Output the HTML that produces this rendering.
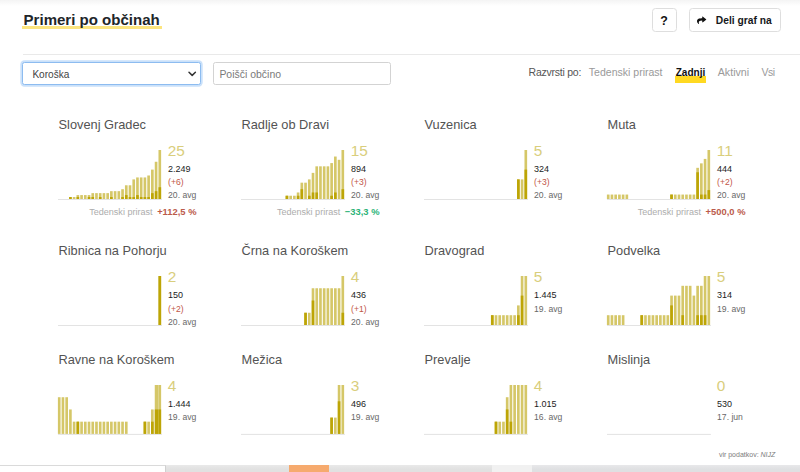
<!DOCTYPE html>
<html lang="sl">
<head>
<meta charset="utf-8">
<title>Primeri po občinah</title>
<style>
html,body{margin:0;padding:0;}
body{width:800px;height:472px;overflow:hidden;background:#fff;position:relative;font-family:"Liberation Sans", sans-serif;}
.t{position:absolute;white-space:nowrap;margin:0;padding:0;}
.c{position:absolute;overflow:visible;}
.abs{position:absolute;box-sizing:border-box;}
#topshade{left:0;top:0;width:800px;height:6px;background:linear-gradient(#f4f4f4,#ffffff);}
#hl{left:22px;top:25.5px;width:139.5px;height:3.1px;background:#fce57f;}
#hr{left:22.5px;top:53.5px;width:778px;height:1px;background:#e9e9e9;}
.btn{border:1px solid #dedede;border-radius:3.5px;background:#fff;top:8.3px;height:23.6px;}
#sel{left:22.2px;top:62.2px;width:178.6px;height:22.4px;border:1px solid #8dbcf0;border-radius:2.5px;background:#fff;box-shadow:0 0 0 1.7px rgba(150,195,245,.5);}
#inp{left:212.6px;top:62.2px;width:178.6px;height:22.4px;border:1px solid #d3d3d3;border-radius:2.5px;background:#fff;}
#zl{left:675px;top:76.4px;width:30.6px;height:6.5px;background:#ffd922;}
.strip{top:465px;height:7px;}
</style>
</head>
<body>
<div class="abs" id="topshade"></div>
<div class="abs" id="hl"></div>
<div class="t" style="top:10.39px;font-size:15.04px;line-height:20px;color:#212529;font-weight:bold;left:23.60px;">Primeri po občinah</div>
<div class="abs btn" style="left:652px;width:24.6px;"></div>
<div class="t" style="top:11.40px;font-size:12.4px;line-height:20px;color:#111;font-weight:bold;left:660.20px;">?</div>
<div class="abs btn" style="left:689.4px;width:91.4px;"></div>
<svg class="c" style="left:696.7px;top:15.6px" width="9.3" height="8.5" viewBox="0 0 512 512" preserveAspectRatio="none"><path d="M503.691 189.836L327.687 37.851C312.281 24.546 288 35.347 288 56.015v80.053C127.371 137.907 0 170.1 0 322.326c0 61.441 39.581 122.309 83.333 154.132 13.653 9.931 33.111-2.533 28.077-18.631C66.066 312.814 132.917 274.316 288 272.085V360c0 20.7 24.3 31.453 39.687 18.164l176.004-152c11.071-9.562 11.086-26.753 0-36.328z" fill="#111"/></svg>
<div class="t" style="top:11.35px;font-size:10.25px;line-height:20px;color:#16181b;font-weight:bold;left:715.80px;">Deli graf na</div>
<div class="abs" id="hr"></div>
<div class="abs" id="sel"></div>
<div class="t" style="top:64.50px;font-size:10.1px;line-height:20px;color:#444;left:32.40px;">Koroška</div>
<svg class="c" style="left:188.4px;top:70.8px" width="8.4" height="6" viewBox="0 0 8.4 6"><path d="M1 1.2 L4.2 4.4 L7.4 1.2" fill="none" stroke="#333" stroke-width="1.5" stroke-linecap="round" stroke-linejoin="round"/></svg>
<div class="abs" id="inp"></div>
<div class="t" style="top:64.87px;font-size:10.48px;line-height:20px;color:#7a7a7a;left:219.40px;">Poišči občino</div>
<div class="t" style="top:61.76px;font-size:10.5px;line-height:20px;color:#555;letter-spacing:-0.24px;left:528.60px;">Razvrsti po:</div>
<div class="t" style="top:61.75px;font-size:10.54px;line-height:20px;color:#9a9a9a;left:588.80px;">Tedenski prirast</div>
<div class="abs" id="zl"></div>
<div class="t" style="top:62.80px;font-size:10.09px;line-height:20px;color:#111;font-weight:bold;left:675.70px;">Zadnji</div>
<div class="t" style="top:61.70px;font-size:10.69px;line-height:20px;color:#9a9a9a;left:717.70px;">Aktivni</div>
<div class="t" style="top:61.76px;font-size:10.5px;line-height:20px;color:#9a9a9a;letter-spacing:-0.43px;left:761.40px;">Vsi</div>
<div class="t" style="top:115.06px;font-size:12.8px;line-height:20px;color:#535353;left:58.50px;">Slovenj Gradec</div>
<svg class="c" style="left:56.2px;top:148.0px" width="110" height="54" viewBox="-2 -2 110 54"><rect x="0" y="49.0" width="103.9" height="1" fill="#e3e3e3"/><rect x="11.08" y="47.04" width="2.65" height="1.96" fill="#d5c768"/><rect x="11.08" y="47.04" width="2.65" height="1.96" fill="#bda506"/><rect x="14.80" y="47.04" width="2.65" height="1.96" fill="#d5c768"/><rect x="18.52" y="45.08" width="2.65" height="3.92" fill="#d5c768"/><rect x="18.52" y="47.04" width="2.65" height="1.96" fill="#bda506"/><rect x="22.25" y="45.08" width="2.65" height="3.92" fill="#d5c768"/><rect x="25.97" y="45.08" width="2.65" height="3.92" fill="#d5c768"/><rect x="29.70" y="45.08" width="2.65" height="3.92" fill="#d5c768"/><rect x="29.70" y="47.04" width="2.65" height="1.96" fill="#bda506"/><rect x="33.42" y="43.12" width="2.65" height="5.88" fill="#d5c768"/><rect x="33.42" y="47.04" width="2.65" height="1.96" fill="#bda506"/><rect x="37.15" y="43.12" width="2.65" height="5.88" fill="#d5c768"/><rect x="40.88" y="43.12" width="2.65" height="5.88" fill="#d5c768"/><rect x="40.88" y="47.04" width="2.65" height="1.96" fill="#bda506"/><rect x="44.60" y="43.12" width="2.65" height="5.88" fill="#d5c768"/><rect x="48.33" y="43.12" width="2.65" height="5.88" fill="#d5c768"/><rect x="52.05" y="41.16" width="2.65" height="7.84" fill="#d5c768"/><rect x="52.05" y="47.04" width="2.65" height="1.96" fill="#bda506"/><rect x="55.77" y="41.16" width="2.65" height="7.84" fill="#d5c768"/><rect x="59.50" y="41.16" width="2.65" height="7.84" fill="#d5c768"/><rect x="63.23" y="39.20" width="2.65" height="9.80" fill="#d5c768"/><rect x="63.23" y="47.04" width="2.65" height="1.96" fill="#bda506"/><rect x="66.95" y="35.28" width="2.65" height="13.72" fill="#d5c768"/><rect x="66.95" y="45.08" width="2.65" height="3.92" fill="#bda506"/><rect x="70.68" y="35.28" width="2.65" height="13.72" fill="#d5c768"/><rect x="70.68" y="47.04" width="2.65" height="1.96" fill="#bda506"/><rect x="74.40" y="29.40" width="2.65" height="19.60" fill="#d5c768"/><rect x="74.40" y="47.04" width="2.65" height="1.96" fill="#bda506"/><rect x="78.13" y="27.44" width="2.65" height="21.56" fill="#d5c768"/><rect x="78.13" y="45.08" width="2.65" height="3.92" fill="#bda506"/><rect x="81.85" y="27.44" width="2.65" height="21.56" fill="#d5c768"/><rect x="81.85" y="47.04" width="2.65" height="1.96" fill="#bda506"/><rect x="85.58" y="27.44" width="2.65" height="21.56" fill="#d5c768"/><rect x="85.58" y="47.04" width="2.65" height="1.96" fill="#bda506"/><rect x="89.30" y="25.48" width="2.65" height="23.52" fill="#d5c768"/><rect x="89.30" y="47.04" width="2.65" height="1.96" fill="#bda506"/><rect x="93.03" y="19.60" width="2.65" height="29.40" fill="#d5c768"/><rect x="93.03" y="43.12" width="2.65" height="5.88" fill="#bda506"/><rect x="96.75" y="11.76" width="2.65" height="37.24" fill="#d5c768"/><rect x="96.75" y="41.16" width="2.65" height="7.84" fill="#bda506"/><rect x="100.48" y="0.00" width="2.65" height="49.00" fill="#d5c768"/><rect x="100.48" y="37.24" width="2.65" height="11.76" fill="#bda506"/></svg>
<div class="t" style="top:141.26px;font-size:15.4px;line-height:20px;color:#d9ce7c;left:167.80px;">25</div>
<div class="t" style="top:159.28px;font-size:9px;line-height:20px;color:#1c1c1c;left:168.10px;">2.249</div>
<div class="t" style="top:172.32px;font-size:8.6px;line-height:20px;color:#bf5747;left:168.10px;">(+6)</div>
<div class="t" style="top:185.32px;font-size:8.6px;line-height:20px;color:#686868;left:168.10px;">20. avg</div>
<div class="t" style="top:202.06px;font-size:9.05px;line-height:20px;color:#adadad;right:603.50px;text-align:right;">Tedenski prirast<b style="color:#bb5b4b;font-size:9.4px;margin-left:4.6px">+112,5 %</b></div>
<div class="t" style="top:115.06px;font-size:12.8px;line-height:20px;color:#535353;left:241.50px;">Radlje ob Dravi</div>
<svg class="c" style="left:239.2px;top:148.0px" width="110" height="54" viewBox="-2 -2 110 54"><rect x="0" y="49.0" width="103.9" height="1" fill="#e3e3e3"/><rect x="44.60" y="45.73" width="2.65" height="3.27" fill="#d5c768"/><rect x="44.60" y="45.73" width="2.65" height="3.27" fill="#bda506"/><rect x="48.33" y="45.73" width="2.65" height="3.27" fill="#d5c768"/><rect x="52.05" y="45.73" width="2.65" height="3.27" fill="#d5c768"/><rect x="55.77" y="42.47" width="2.65" height="6.53" fill="#d5c768"/><rect x="55.77" y="45.73" width="2.65" height="3.27" fill="#bda506"/><rect x="59.50" y="32.67" width="2.65" height="16.33" fill="#d5c768"/><rect x="59.50" y="39.20" width="2.65" height="9.80" fill="#bda506"/><rect x="63.23" y="32.67" width="2.65" height="16.33" fill="#d5c768"/><rect x="66.95" y="29.40" width="2.65" height="19.60" fill="#d5c768"/><rect x="66.95" y="45.73" width="2.65" height="3.27" fill="#bda506"/><rect x="70.68" y="22.87" width="2.65" height="26.13" fill="#d5c768"/><rect x="70.68" y="42.47" width="2.65" height="6.53" fill="#bda506"/><rect x="74.40" y="16.33" width="2.65" height="32.67" fill="#d5c768"/><rect x="74.40" y="42.47" width="2.65" height="6.53" fill="#bda506"/><rect x="78.13" y="16.33" width="2.65" height="32.67" fill="#d5c768"/><rect x="81.85" y="16.33" width="2.65" height="32.67" fill="#d5c768"/><rect x="85.58" y="16.33" width="2.65" height="32.67" fill="#d5c768"/><rect x="89.30" y="13.07" width="2.65" height="35.93" fill="#d5c768"/><rect x="89.30" y="45.73" width="2.65" height="3.27" fill="#bda506"/><rect x="93.03" y="6.53" width="2.65" height="42.47" fill="#d5c768"/><rect x="93.03" y="42.47" width="2.65" height="6.53" fill="#bda506"/><rect x="96.75" y="9.80" width="2.65" height="39.20" fill="#d5c768"/><rect x="100.48" y="0.00" width="2.65" height="49.00" fill="#d5c768"/><rect x="100.48" y="39.20" width="2.65" height="9.80" fill="#bda506"/></svg>
<div class="t" style="top:141.26px;font-size:15.4px;line-height:20px;color:#d9ce7c;left:350.80px;">15</div>
<div class="t" style="top:159.28px;font-size:9px;line-height:20px;color:#1c1c1c;left:351.10px;">894</div>
<div class="t" style="top:172.32px;font-size:8.6px;line-height:20px;color:#bf5747;left:351.10px;">(+3)</div>
<div class="t" style="top:185.32px;font-size:8.6px;line-height:20px;color:#686868;left:351.10px;">20. avg</div>
<div class="t" style="top:202.06px;font-size:9.05px;line-height:20px;color:#adadad;right:420.50px;text-align:right;">Tedenski prirast<b style="color:#2bb378;font-size:9.4px;margin-left:4.6px">−33,3 %</b></div>
<div class="t" style="top:115.06px;font-size:12.8px;line-height:20px;color:#535353;left:424.50px;">Vuzenica</div>
<svg class="c" style="left:422.2px;top:148.0px" width="110" height="54" viewBox="-2 -2 110 54"><rect x="0" y="49.0" width="103.9" height="1" fill="#e3e3e3"/><rect x="93.03" y="29.40" width="2.65" height="19.60" fill="#d5c768"/><rect x="93.03" y="29.40" width="2.65" height="19.60" fill="#bda506"/><rect x="96.75" y="29.40" width="2.65" height="19.60" fill="#d5c768"/><rect x="100.48" y="0.00" width="2.65" height="49.00" fill="#d5c768"/><rect x="100.48" y="19.60" width="2.65" height="29.40" fill="#bda506"/></svg>
<div class="t" style="top:141.26px;font-size:15.4px;line-height:20px;color:#d9ce7c;left:533.80px;">5</div>
<div class="t" style="top:159.28px;font-size:9px;line-height:20px;color:#1c1c1c;left:534.10px;">324</div>
<div class="t" style="top:172.32px;font-size:8.6px;line-height:20px;color:#bf5747;left:534.10px;">(+3)</div>
<div class="t" style="top:185.32px;font-size:8.6px;line-height:20px;color:#686868;left:534.10px;">20. avg</div>
<div class="t" style="top:115.06px;font-size:12.8px;line-height:20px;color:#535353;left:607.50px;">Muta</div>
<svg class="c" style="left:605.2px;top:148.0px" width="110" height="54" viewBox="-2 -2 110 54"><rect x="0" y="49.0" width="103.9" height="1" fill="#e3e3e3"/><rect x="-0.10" y="44.55" width="2.65" height="4.45" fill="#d5c768"/><rect x="3.62" y="44.55" width="2.65" height="4.45" fill="#d5c768"/><rect x="7.35" y="44.55" width="2.65" height="4.45" fill="#d5c768"/><rect x="11.08" y="44.55" width="2.65" height="4.45" fill="#d5c768"/><rect x="14.80" y="44.55" width="2.65" height="4.45" fill="#d5c768"/><rect x="18.52" y="44.55" width="2.65" height="4.45" fill="#d5c768"/><rect x="63.23" y="44.55" width="2.65" height="4.45" fill="#d5c768"/><rect x="63.23" y="44.55" width="2.65" height="4.45" fill="#bda506"/><rect x="66.95" y="44.55" width="2.65" height="4.45" fill="#d5c768"/><rect x="70.68" y="44.55" width="2.65" height="4.45" fill="#d5c768"/><rect x="74.40" y="44.55" width="2.65" height="4.45" fill="#d5c768"/><rect x="78.13" y="44.55" width="2.65" height="4.45" fill="#d5c768"/><rect x="81.85" y="44.55" width="2.65" height="4.45" fill="#d5c768"/><rect x="85.58" y="44.55" width="2.65" height="4.45" fill="#d5c768"/><rect x="89.30" y="17.82" width="2.65" height="31.18" fill="#d5c768"/><rect x="89.30" y="22.27" width="2.65" height="26.73" fill="#bda506"/><rect x="93.03" y="13.36" width="2.65" height="35.64" fill="#d5c768"/><rect x="93.03" y="44.55" width="2.65" height="4.45" fill="#bda506"/><rect x="96.75" y="8.91" width="2.65" height="40.09" fill="#d5c768"/><rect x="96.75" y="44.55" width="2.65" height="4.45" fill="#bda506"/><rect x="100.48" y="0.00" width="2.65" height="49.00" fill="#d5c768"/><rect x="100.48" y="40.09" width="2.65" height="8.91" fill="#bda506"/></svg>
<div class="t" style="top:141.26px;font-size:15.4px;line-height:20px;color:#d9ce7c;left:716.80px;">11</div>
<div class="t" style="top:159.28px;font-size:9px;line-height:20px;color:#1c1c1c;left:717.10px;">444</div>
<div class="t" style="top:172.32px;font-size:8.6px;line-height:20px;color:#bf5747;left:717.10px;">(+2)</div>
<div class="t" style="top:185.32px;font-size:8.6px;line-height:20px;color:#686868;left:717.10px;">20. avg</div>
<div class="t" style="top:202.06px;font-size:9.05px;line-height:20px;color:#adadad;right:54.50px;text-align:right;">Tedenski prirast<b style="color:#bb5b4b;font-size:9.4px;margin-left:4.6px">+500,0 %</b></div>
<div class="t" style="top:241.36px;font-size:12.8px;line-height:20px;color:#535353;left:58.50px;">Ribnica na Pohorju</div>
<svg class="c" style="left:56.2px;top:274.2px" width="110" height="54" viewBox="-2 -2 110 54"><rect x="0" y="49.0" width="103.9" height="1" fill="#e3e3e3"/><rect x="100.48" y="0.00" width="2.65" height="49.00" fill="#d5c768"/><rect x="100.48" y="0.00" width="2.65" height="49.00" fill="#bda506"/></svg>
<div class="t" style="top:267.46px;font-size:15.4px;line-height:20px;color:#d9ce7c;left:167.80px;">2</div>
<div class="t" style="top:285.48px;font-size:9px;line-height:20px;color:#1c1c1c;left:168.10px;">150</div>
<div class="t" style="top:298.52px;font-size:8.6px;line-height:20px;color:#bf5747;left:168.10px;">(+2)</div>
<div class="t" style="top:311.52px;font-size:8.6px;line-height:20px;color:#686868;left:168.10px;">20. avg</div>
<div class="t" style="top:241.36px;font-size:12.8px;line-height:20px;color:#535353;left:241.50px;">Črna na Koroškem</div>
<svg class="c" style="left:239.2px;top:274.2px" width="110" height="54" viewBox="-2 -2 110 54"><rect x="0" y="49.0" width="103.9" height="1" fill="#e3e3e3"/><rect x="63.23" y="36.75" width="2.65" height="12.25" fill="#d5c768"/><rect x="63.23" y="36.75" width="2.65" height="12.25" fill="#bda506"/><rect x="66.95" y="36.75" width="2.65" height="12.25" fill="#d5c768"/><rect x="70.68" y="12.25" width="2.65" height="36.75" fill="#d5c768"/><rect x="70.68" y="24.50" width="2.65" height="24.50" fill="#bda506"/><rect x="74.40" y="12.25" width="2.65" height="36.75" fill="#d5c768"/><rect x="78.13" y="12.25" width="2.65" height="36.75" fill="#d5c768"/><rect x="81.85" y="12.25" width="2.65" height="36.75" fill="#d5c768"/><rect x="85.58" y="12.25" width="2.65" height="36.75" fill="#d5c768"/><rect x="89.30" y="12.25" width="2.65" height="36.75" fill="#d5c768"/><rect x="93.03" y="12.25" width="2.65" height="36.75" fill="#d5c768"/><rect x="96.75" y="12.25" width="2.65" height="36.75" fill="#d5c768"/><rect x="100.48" y="0.00" width="2.65" height="49.00" fill="#d5c768"/><rect x="100.48" y="36.75" width="2.65" height="12.25" fill="#bda506"/></svg>
<div class="t" style="top:267.46px;font-size:15.4px;line-height:20px;color:#d9ce7c;left:350.80px;">4</div>
<div class="t" style="top:285.48px;font-size:9px;line-height:20px;color:#1c1c1c;left:351.10px;">436</div>
<div class="t" style="top:298.52px;font-size:8.6px;line-height:20px;color:#bf5747;left:351.10px;">(+1)</div>
<div class="t" style="top:311.52px;font-size:8.6px;line-height:20px;color:#686868;left:351.10px;">20. avg</div>
<div class="t" style="top:241.36px;font-size:12.8px;line-height:20px;color:#535353;left:424.50px;">Dravograd</div>
<svg class="c" style="left:422.2px;top:274.2px" width="110" height="54" viewBox="-2 -2 110 54"><rect x="0" y="49.0" width="103.9" height="1" fill="#e3e3e3"/><rect x="66.95" y="39.20" width="2.65" height="9.80" fill="#d5c768"/><rect x="66.95" y="39.20" width="2.65" height="9.80" fill="#bda506"/><rect x="70.68" y="39.20" width="2.65" height="9.80" fill="#d5c768"/><rect x="74.40" y="39.20" width="2.65" height="9.80" fill="#d5c768"/><rect x="78.13" y="39.20" width="2.65" height="9.80" fill="#d5c768"/><rect x="81.85" y="39.20" width="2.65" height="9.80" fill="#d5c768"/><rect x="85.58" y="39.20" width="2.65" height="9.80" fill="#d5c768"/><rect x="89.30" y="39.20" width="2.65" height="9.80" fill="#d5c768"/><rect x="93.03" y="29.40" width="2.65" height="19.60" fill="#d5c768"/><rect x="93.03" y="39.20" width="2.65" height="9.80" fill="#bda506"/><rect x="96.75" y="0.00" width="2.65" height="49.00" fill="#d5c768"/><rect x="96.75" y="19.60" width="2.65" height="29.40" fill="#bda506"/><rect x="100.48" y="0.00" width="2.65" height="49.00" fill="#d5c768"/></svg>
<div class="t" style="top:267.46px;font-size:15.4px;line-height:20px;color:#d9ce7c;left:533.80px;">5</div>
<div class="t" style="top:285.48px;font-size:9px;line-height:20px;color:#1c1c1c;left:534.10px;">1.445</div>
<div class="t" style="top:298.52px;font-size:8.6px;line-height:20px;color:#686868;left:534.10px;">19. avg</div>
<div class="t" style="top:241.36px;font-size:12.8px;line-height:20px;color:#535353;left:607.50px;">Podvelka</div>
<svg class="c" style="left:605.2px;top:274.2px" width="110" height="54" viewBox="-2 -2 110 54"><rect x="0" y="49.0" width="103.9" height="1" fill="#e3e3e3"/><rect x="-0.10" y="39.20" width="2.65" height="9.80" fill="#d5c768"/><rect x="3.62" y="39.20" width="2.65" height="9.80" fill="#d5c768"/><rect x="7.35" y="39.20" width="2.65" height="9.80" fill="#d5c768"/><rect x="11.08" y="39.20" width="2.65" height="9.80" fill="#d5c768"/><rect x="14.80" y="39.20" width="2.65" height="9.80" fill="#d5c768"/><rect x="33.42" y="39.20" width="2.65" height="9.80" fill="#d5c768"/><rect x="33.42" y="39.20" width="2.65" height="9.80" fill="#bda506"/><rect x="37.15" y="39.20" width="2.65" height="9.80" fill="#d5c768"/><rect x="40.88" y="39.20" width="2.65" height="9.80" fill="#d5c768"/><rect x="44.60" y="39.20" width="2.65" height="9.80" fill="#d5c768"/><rect x="48.33" y="39.20" width="2.65" height="9.80" fill="#d5c768"/><rect x="52.05" y="39.20" width="2.65" height="9.80" fill="#d5c768"/><rect x="55.77" y="39.20" width="2.65" height="9.80" fill="#d5c768"/><rect x="59.50" y="39.20" width="2.65" height="9.80" fill="#d5c768"/><rect x="63.23" y="19.60" width="2.65" height="29.40" fill="#d5c768"/><rect x="63.23" y="29.40" width="2.65" height="19.60" fill="#bda506"/><rect x="66.95" y="19.60" width="2.65" height="29.40" fill="#d5c768"/><rect x="70.68" y="19.60" width="2.65" height="29.40" fill="#d5c768"/><rect x="74.40" y="9.80" width="2.65" height="39.20" fill="#d5c768"/><rect x="74.40" y="39.20" width="2.65" height="9.80" fill="#bda506"/><rect x="78.13" y="9.80" width="2.65" height="39.20" fill="#d5c768"/><rect x="81.85" y="9.80" width="2.65" height="39.20" fill="#d5c768"/><rect x="85.58" y="19.60" width="2.65" height="29.40" fill="#d5c768"/><rect x="89.30" y="9.80" width="2.65" height="39.20" fill="#d5c768"/><rect x="89.30" y="39.20" width="2.65" height="9.80" fill="#bda506"/><rect x="93.03" y="9.80" width="2.65" height="39.20" fill="#d5c768"/><rect x="93.03" y="39.20" width="2.65" height="9.80" fill="#bda506"/><rect x="96.75" y="0.00" width="2.65" height="49.00" fill="#d5c768"/><rect x="96.75" y="39.20" width="2.65" height="9.80" fill="#bda506"/><rect x="100.48" y="0.00" width="2.65" height="49.00" fill="#d5c768"/></svg>
<div class="t" style="top:267.46px;font-size:15.4px;line-height:20px;color:#d9ce7c;left:716.80px;">5</div>
<div class="t" style="top:285.48px;font-size:9px;line-height:20px;color:#1c1c1c;left:717.10px;">314</div>
<div class="t" style="top:298.52px;font-size:8.6px;line-height:20px;color:#686868;left:717.10px;">19. avg</div>
<div class="t" style="top:350.36px;font-size:12.8px;line-height:20px;color:#535353;left:58.50px;">Ravne na Koroškem</div>
<svg class="c" style="left:56.2px;top:382.8px" width="110" height="54" viewBox="-2 -2 110 54"><rect x="0" y="48.9" width="103.9" height="1" fill="#e3e3e3"/><rect x="-0.10" y="12.22" width="2.65" height="36.67" fill="#d5c768"/><rect x="3.62" y="12.22" width="2.65" height="36.67" fill="#d5c768"/><rect x="7.35" y="12.22" width="2.65" height="36.67" fill="#d5c768"/><rect x="11.08" y="24.45" width="2.65" height="24.45" fill="#d5c768"/><rect x="14.80" y="36.67" width="2.65" height="12.22" fill="#d5c768"/><rect x="18.52" y="36.67" width="2.65" height="12.22" fill="#d5c768"/><rect x="18.52" y="36.67" width="2.65" height="12.22" fill="#bda506"/><rect x="22.25" y="36.67" width="2.65" height="12.22" fill="#d5c768"/><rect x="25.97" y="36.67" width="2.65" height="12.22" fill="#d5c768"/><rect x="29.70" y="36.67" width="2.65" height="12.22" fill="#d5c768"/><rect x="33.42" y="36.67" width="2.65" height="12.22" fill="#d5c768"/><rect x="37.15" y="36.67" width="2.65" height="12.22" fill="#d5c768"/><rect x="40.88" y="36.67" width="2.65" height="12.22" fill="#d5c768"/><rect x="44.60" y="36.67" width="2.65" height="12.22" fill="#d5c768"/><rect x="48.33" y="36.67" width="2.65" height="12.22" fill="#d5c768"/><rect x="52.05" y="36.67" width="2.65" height="12.22" fill="#d5c768"/><rect x="55.77" y="36.67" width="2.65" height="12.22" fill="#d5c768"/><rect x="59.50" y="36.67" width="2.65" height="12.22" fill="#d5c768"/><rect x="63.23" y="36.67" width="2.65" height="12.22" fill="#d5c768"/><rect x="66.95" y="36.67" width="2.65" height="12.22" fill="#d5c768"/><rect x="85.58" y="36.67" width="2.65" height="12.22" fill="#d5c768"/><rect x="85.58" y="36.67" width="2.65" height="12.22" fill="#bda506"/><rect x="89.30" y="36.67" width="2.65" height="12.22" fill="#d5c768"/><rect x="93.03" y="24.45" width="2.65" height="24.45" fill="#d5c768"/><rect x="93.03" y="36.67" width="2.65" height="12.22" fill="#bda506"/><rect x="96.75" y="0.00" width="3.74" height="48.90" fill="#d5c768"/><rect x="96.75" y="24.45" width="3.74" height="24.45" fill="#bda506"/><rect x="100.48" y="0.00" width="2.65" height="48.90" fill="#d5c768"/><rect x="100.48" y="24.45" width="2.65" height="24.45" fill="#bda506"/></svg>
<div class="t" style="top:376.06px;font-size:15.4px;line-height:20px;color:#d9ce7c;left:167.80px;">4</div>
<div class="t" style="top:394.08px;font-size:9px;line-height:20px;color:#1c1c1c;left:168.10px;">1.444</div>
<div class="t" style="top:407.12px;font-size:8.6px;line-height:20px;color:#686868;left:168.10px;">19. avg</div>
<div class="t" style="top:350.36px;font-size:12.8px;line-height:20px;color:#535353;left:241.50px;">Mežica</div>
<svg class="c" style="left:239.2px;top:382.8px" width="110" height="54" viewBox="-2 -2 110 54"><rect x="0" y="48.9" width="103.9" height="1" fill="#e3e3e3"/><rect x="89.30" y="32.60" width="2.65" height="16.30" fill="#d5c768"/><rect x="89.30" y="32.60" width="2.65" height="16.30" fill="#bda506"/><rect x="93.03" y="32.60" width="2.65" height="16.30" fill="#d5c768"/><rect x="96.75" y="0.00" width="2.65" height="48.90" fill="#d5c768"/><rect x="96.75" y="16.30" width="2.65" height="32.60" fill="#bda506"/><rect x="100.48" y="0.00" width="2.65" height="48.90" fill="#d5c768"/></svg>
<div class="t" style="top:376.06px;font-size:15.4px;line-height:20px;color:#d9ce7c;left:350.80px;">3</div>
<div class="t" style="top:394.08px;font-size:9px;line-height:20px;color:#1c1c1c;left:351.10px;">496</div>
<div class="t" style="top:407.12px;font-size:8.6px;line-height:20px;color:#686868;left:351.10px;">19. avg</div>
<div class="t" style="top:350.36px;font-size:12.8px;line-height:20px;color:#535353;left:424.50px;">Prevalje</div>
<svg class="c" style="left:422.2px;top:382.8px" width="110" height="54" viewBox="-2 -2 110 54"><rect x="0" y="48.9" width="103.9" height="1" fill="#e3e3e3"/><rect x="70.68" y="36.67" width="2.65" height="12.22" fill="#d5c768"/><rect x="70.68" y="36.67" width="2.65" height="12.22" fill="#bda506"/><rect x="74.40" y="36.67" width="2.65" height="12.22" fill="#d5c768"/><rect x="78.13" y="36.67" width="2.65" height="12.22" fill="#d5c768"/><rect x="81.85" y="12.22" width="2.65" height="36.67" fill="#d5c768"/><rect x="81.85" y="24.45" width="2.65" height="24.45" fill="#bda506"/><rect x="85.58" y="0.00" width="2.65" height="48.90" fill="#d5c768"/><rect x="85.58" y="36.67" width="2.65" height="12.22" fill="#bda506"/><rect x="89.30" y="0.00" width="2.65" height="48.90" fill="#d5c768"/><rect x="93.03" y="0.00" width="2.65" height="48.90" fill="#d5c768"/><rect x="96.75" y="0.00" width="2.65" height="48.90" fill="#d5c768"/><rect x="100.48" y="0.00" width="2.65" height="48.90" fill="#d5c768"/></svg>
<div class="t" style="top:376.06px;font-size:15.4px;line-height:20px;color:#d9ce7c;left:533.80px;">4</div>
<div class="t" style="top:394.08px;font-size:9px;line-height:20px;color:#1c1c1c;left:534.10px;">1.015</div>
<div class="t" style="top:407.12px;font-size:8.6px;line-height:20px;color:#686868;left:534.10px;">16. avg</div>
<div class="t" style="top:350.36px;font-size:12.8px;line-height:20px;color:#535353;left:607.50px;">Mislinja</div>
<svg class="c" style="left:605.2px;top:382.8px" width="110" height="54" viewBox="-2 -2 110 54"><rect x="0" y="48.9" width="103.9" height="1" fill="#e3e3e3"/></svg>
<div class="t" style="top:376.06px;font-size:15.4px;line-height:20px;color:#d9ce7c;left:716.80px;">0</div>
<div class="t" style="top:394.08px;font-size:9px;line-height:20px;color:#1c1c1c;left:717.10px;">530</div>
<div class="t" style="top:407.12px;font-size:8.6px;line-height:20px;color:#686868;left:717.10px;">17. jun</div>
<div class="t" style="top:444.87px;font-size:7.0px;line-height:20px;color:#7c7c7c;left:718.90px;">vir podatkov: <i>NIJZ</i></div>
<div class="abs strip" style="left:0;width:166px;background:#fff;border-top:1px solid #dadada;border-right:1px solid #d0d0d0;"></div>
<div class="abs strip" style="left:166px;width:123px;background:linear-gradient(#e9e9e9,#e1e1e1 60%);"></div>
<div class="abs strip" style="left:289px;width:40px;background:#f6aa6e;"></div>
<div class="abs strip" style="left:329px;width:163px;background:linear-gradient(#e9e9e9,#e1e1e1 60%);"></div>
<div class="abs strip" style="left:492px;width:40px;background:#f1f1f1;"></div>
<div class="abs strip" style="left:532px;width:268px;background:linear-gradient(#e8e8ea,#dfe0e2 60%);"></div>
</body>
</html>
